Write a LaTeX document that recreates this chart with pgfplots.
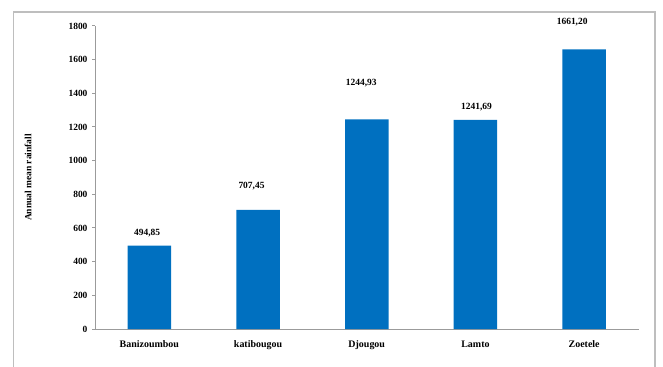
\documentclass[border=0pt]{standalone}
\usepackage{pgfplots}
\pgfplotsset{compat=1.18}
\usepackage{fontspec}
\setmainfont{Liberation Serif}
\definecolor{barblue}{RGB}{0,112,192}
\definecolor{axgray}{RGB}{155,155,155}
\definecolor{framegray}{RGB}{190,190,190}
\begin{document}
\begin{tikzpicture}
\useasboundingbox (0,0) rectangle (663bp,367bp);
\draw[framegray, line width=1.6bp] (13.3bp,0) -- (13.3bp,355bp) -- (655bp,355bp) -- (655bp,0);
\begin{axis}[
  at={(95bp,38bp)}, anchor=south west,
  scale only axis, width=543.5bp, height=303bp,
  xmin=-0.5, xmax=4.5, ymin=0, ymax=1800,
  axis x line*=bottom, axis y line*=left,
  axis line style={axgray, line width=1bp, -},
  ytick={0,200,...,1800},
  ytick style={axgray, line width=1bp},
  major tick length=3bp,
  tick align=outside,
  xtick={0,1,2,3,4},
  xticklabels={Banizoumbou,katibougou,Djougou,Lamto,Zoetele},
  xtick style={draw=none},
  extra x ticks={-0.5,0.5,1.5,2.5,3.5,4.5},
  extra x tick labels={},
  extra x tick style={xtick style={axgray, line width=1bp}, major tick length=4bp},
  /pgf/number format/assume math mode=true,
  /pgf/number format/1000 sep={},
  yticklabel style={font=\fontsize{9.5}{11}\selectfont\bfseries, xshift=-1bp},
  xticklabel style={font=\fontsize{10}{12}\selectfont\bfseries, yshift=-5bp},
  ylabel={Annual mean rainfall},
  ylabel style={font=\fontsize{9.5}{11}\selectfont\bfseries, at={(axis description cs:-0.123,0.5)}, anchor=center},
  clip=false,
]
\addplot[ybar, bar width=43.5bp, fill=barblue, draw=none] coordinates {
  (0,494.85) (1,707.45) (2,1244.93) (3,1241.69) (4,1661.20)
};
\addplot[draw=none, mark=none, nodes near coords, point meta=explicit symbolic,
  every node near coord/.style={anchor=center, font=\fontsize{9.5}{11}\selectfont\bfseries, inner sep=0pt}]
  table[meta=label] {
x y label
-0.02 568 494,85
0.94 851 707,45
1.95 1460 1244,93
3.01 1321 1241,69
3.89 1822 1661,20
};
\end{axis}
\end{tikzpicture}
\end{document}
